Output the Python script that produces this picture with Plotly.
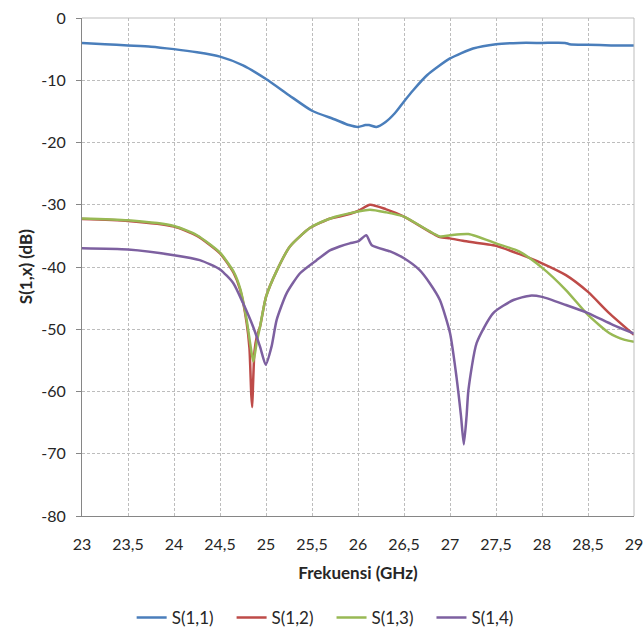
import plotly.graph_objects as go

# ---------------- data ----------------
s11_f = [23, 23.25, 23.5, 23.75, 24, 24.25, 24.5, 24.75, 25, 25.25, 25.5, 25.75, 25.9, 26, 26.08,
         26.12, 26.2, 26.3, 26.4, 26.5, 26.6, 26.75, 27, 27.25, 27.5, 27.75, 28, 28.25, 28.3, 28.5, 28.75, 29]
s11_v = [-4.0, -4.2, -4.4, -4.6, -5.0, -5.5, -6.2, -7.6, -9.8, -12.4, -14.9, -16.3, -17.2, -17.5, -17.2,
         -17.2, -17.5, -16.7, -15.3, -13.4, -11.6, -9.2, -6.5, -4.9, -4.2, -4.0, -4.0, -4.0, -4.2, -4.3, -4.4, -4.4]

s12_f = [23, 23.5, 24, 24.25, 24.5, 24.65, 24.72, 24.79, 24.82, 24.84, 24.85, 24.86, 24.875, 24.9, 24.935,
         25.0, 25.12, 25.26, 25.48, 25.7, 25.8, 26.0, 26.13, 26.3, 26.5, 26.89, 27.0, 27.14, 27.5, 27.75,
         28.0, 28.26, 28.5, 28.73, 29]
s12_v = [-32.3, -32.6, -33.5, -35.0, -37.8, -41.0, -43.7, -49.0, -53.0, -60.5, -62.5, -58.5, -53.5, -51.2, -49.6,
         -44.8, -40.5, -36.7, -33.7, -32.2, -31.9, -31.0, -30.0, -30.7, -31.9, -35.2, -35.4, -35.8, -36.6, -37.9,
         -39.4, -41.3, -44.0, -47.4, -50.9]

s13_f = [23, 23.5, 24, 24.25, 24.5, 24.65, 24.72, 24.79, 24.83, 24.862, 24.9, 24.935, 25.0, 25.12, 25.26,
         25.48, 25.7, 26.0, 26.13, 26.3, 26.5, 26.89, 27.0, 27.2, 27.5, 27.75, 28.0, 28.26, 28.5, 28.73, 28.9, 29]
s13_v = [-32.2, -32.5, -33.4, -34.9, -37.7, -40.8, -43.5, -48.5, -52.5, -55.2, -52.0, -49.6, -44.8, -40.5, -36.7,
         -33.7, -32.2, -31.1, -30.8, -31.2, -31.9, -35.1, -34.9, -34.7, -36.2, -37.5, -40.1, -43.7, -47.7, -50.6, -51.7, -52.0]

s14_f = [23, 23.5, 24, 24.28, 24.5, 24.645, 24.75, 24.86, 24.935, 24.997, 25.06, 25.116, 25.225, 25.37, 25.55,
         25.7, 25.8, 25.91, 26.0, 26.09, 26.15, 26.35, 26.5, 26.67, 26.78, 26.89, 27.0, 27.07, 27.12, 27.15,
         27.18, 27.2, 27.29, 27.47, 27.69, 27.87, 28.0, 28.26, 28.5, 28.77, 29]
s14_v = [-37.0, -37.2, -38.1, -38.9, -40.4, -42.6, -45.8, -49.6, -52.8, -55.7, -52.8, -48.5, -44.2, -41.0, -38.9,
         -37.3, -36.7, -36.2, -35.9, -34.9, -36.5, -37.5, -38.6, -40.5, -42.6, -45.3, -50.6, -57.6, -64.0, -68.5,
         -64.0, -59.8, -52.2, -47.4, -45.3, -44.6, -44.8, -46.1, -47.4, -49.3, -50.7]

series_names = ["S(1,1)", "S(1,2)", "S(1,3)", "S(1,4)"]
series_colors = ["#4A7EBB", "#BE4B48", "#98B954", "#7D60A0"]

x_tickvals = [23, 23.5, 24, 24.5, 25, 25.5, 26, 26.5, 27, 27.5, 28, 28.5, 29]
x_ticktext = ["23", "23,5", "24", "24,5", "25", "25,5", "26", "26,5", "27", "27,5", "28", "28,5", "29"]
y_tickvals = [0, -10, -20, -30, -40, -50, -60, -70, -80]
y_ticktext = ["0", "-10", "-20", "-30", "-40", "-50", "-60", "-70", "-80"]

# ---------------- figure ----------------
fig = go.Figure()
for fx, fy, name, col in zip([s11_f, s12_f, s13_f, s14_f], [s11_v, s12_v, s13_v, s14_v],
                             series_names, series_colors):
    fig.add_trace(go.Scatter(x=fx, y=fy, name=name + "   ", mode="lines",
                             line=dict(color=col, width=2.5, shape="spline", smoothing=0.6)))

font_family = "Lato, 'Open Sans', sans-serif"
fig.update_layout(
    width=644, height=628,
    margin=dict(l=82, r=10, t=18, b=112, autoexpand=False),
    paper_bgcolor="white", plot_bgcolor="white",
    font=dict(family=font_family, size=16, color="#262626"),
    showlegend=True,
    legend=dict(orientation="h", xref="container", yref="container",
                x=0.515, xanchor="center", y=0.016, yanchor="middle",
                font=dict(size=17, color="#262626"), itemwidth=30, tracegroupgap=0),
)
fig.update_xaxes(
    range=[23, 29], tickmode="array", tickvals=x_tickvals, ticktext=x_ticktext,
    showgrid=True, gridcolor="#BDBDBD", griddash="3px,2px", gridwidth=1,
    showline=True, linecolor="#868686", linewidth=1, ticks="", zeroline=False,
    ticklabelstandoff=14, automargin=False,
    title=dict(text="<b>Frekuensi (GHz)</b>", font=dict(size=17, color="#262626"), standoff=14),
    tickfont=dict(size=16),
)
fig.update_yaxes(
    range=[-80, 0], tickmode="array", tickvals=y_tickvals, ticktext=y_ticktext,
    showgrid=True, gridcolor="#BDBDBD", griddash="3px,2px", gridwidth=1,
    showline=True, linecolor="#868686", linewidth=1, ticks="outside", ticklen=5, tickcolor="#868686",
    zeroline=False, ticklabelstandoff=7, automargin=False,
    tickfont=dict(size=16),
)
# y-axis title as annotation for exact placement
fig.add_annotation(text="<b>S(1,x) (dB)</b>", xref="paper", yref="paper", x=-0.103, y=0.5,
                   textangle=-90, showarrow=False, xanchor="center", yanchor="middle",
                   font=dict(size=17, color="#262626"))
# light plot-area border on top/right
fig.add_shape(type="line", xref="paper", yref="paper", x0=0, x1=1, y0=1, y1=1,
              line=dict(color="#BDBDBD", width=1))
fig.add_shape(type="line", xref="paper", yref="paper", x0=1, x1=1, y0=0, y1=1,
              line=dict(color="#BDBDBD", width=1))

fig.write_html("out.html")
